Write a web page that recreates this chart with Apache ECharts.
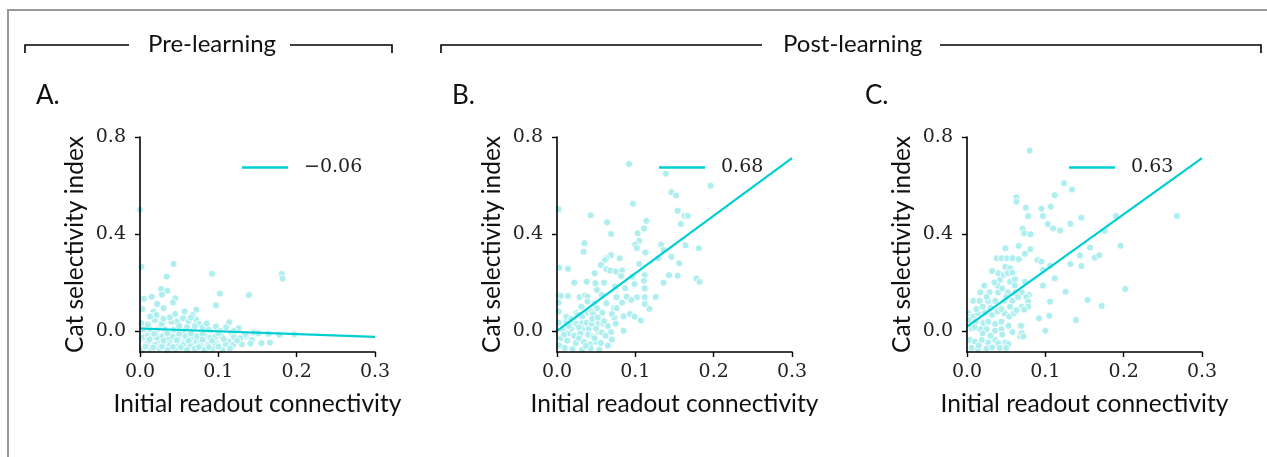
<!DOCTYPE html>
<html><head><meta charset="utf-8">
<script src="https://cdn.jsdelivr.net/npm/echarts@6/dist/echarts.min.js"></script>
<style>html,body{margin:0;padding:0;background:#fff}#c{width:1267px;height:457px}</style>
</head><body><div id="c"></div>
<script>
// ---- data ----
const xTicks = [0.0, 0.1, 0.2, 0.3];
const yTicks = [0.0, 0.4, 0.8];
const panelLetters = ['A.', 'B.', 'C.'];
const groupTitles = ['Pre-learning', 'Post-learning'];
const xName = 'Initial readout connectivity';
const yName = 'Cat selectivity index';
const corrLabels = ['\u22120.06', '0.68', '0.63'];

const ptsA = [[0,0.5],[0.002,0.265],[0.043,0.276],[0.092,0.236],[0.181,0.235],[0.182,0.216],[0.034,0.224],[0.027,0.173],[0.035,0.166],[0.028,0.15],[0.045,0.135],[0.042,0.117],[0.015,0.141],[0.005,0.133],[0.003,0.09],[0.102,0.154],[0.097,0.106],[0.139,0.148],[0.021,0.11],[0.03,0.094],[0.017,0.08],[0.014,0.062],[0.019,0.045],[0.072,0.087],[0.067,0.066],[0.054,0.052],[0.062,0.038],[0.047,0.038],[0.04,0.038],[0.072,0.045],[0.075,0.029],[0.114,0.036],[0.126,0.011],[0.097,0.018],[0.089,0.004],[0.026,0.018],[0.011,0.011],[0.002,0.032],[0.146,-0.007],[0.151,-0.01],[0.178,-0.016],[0.197,-0.014],[0.135,-0.023],[0.143,-0.037],[0.155,-0.051],[0.166,-0.048],[0.113,-0.044],[0.098,-0.051],[0.072,-0.044],[0.055,-0.051],[0.038,-0.048],[0.023,-0.037],[0.009,-0.044],[0.002,-0.03],
[0.038,0.056],[0.013,0.059],[0.021,0.066],[0.022,0.111],[0.055,0.052],[0.062,0.041],[0.004,0.005],[0.013,0.005],[0.021,0.003],[0.032,0.006],[0.043,0.004],[0.055,0.002],[0.068,0.005],[0.079,0.0],[0.087,0.006],[0.102,0.0],[0.117,-0.007],[0.134,-0.016],[0.164,-0.012],
[0.005,-0.025],[0.01,-0.02],[0.015,-0.026],[0.022,-0.028],[0.029,-0.022],[0.035,-0.027],[0.042,-0.024],[0.049,-0.028],[0.058,-0.023],[0.065,-0.027],[0.073,-0.022],[0.083,-0.02],[0.09,-0.028],[0.096,-0.024],[0.104,-0.022],[0.12,-0.025],[0.128,-0.03],
[0.009,-0.055],[0.019,-0.057],[0.03,-0.054],[0.038,-0.06],[0.049,-0.055],[0.055,-0.058],[0.064,-0.056],[0.077,-0.055],[0.087,-0.058],[0.096,-0.055],[0.109,-0.054],[0.119,-0.057],[0.13,-0.055],[0.141,-0.052],
[0.003,-0.075],[0.014,-0.078],[0.025,-0.072],[0.035,-0.079],[0.045,-0.074],[0.06,-0.077],[0.07,-0.073],[0.082,-0.078],[0.092,-0.074],[0.105,-0.078],[0.115,-0.072],
[0.01,0.025],[0.028,0.03],[0.05,0.02],[0.06,0.015],[0.07,0.02],[0.08,0.015],[0.03,0.05],[0.045,0.07],[0.057,0.08],[0.065,0.055],[0.085,0.03],[0.11,0.015],[0.12,0.0],[0.035,-0.01],[0.05,-0.012],[0.065,-0.01],[0.08,-0.013],[0.018,-0.012],[0.1,-0.01],
[0.007,-0.065],[0.017,-0.068],[0.028,-0.064],[0.042,-0.066],[0.052,-0.068],[0.075,-0.066],[0.088,-0.067],[0.1,-0.065],[0.012,-0.035],[0.03,-0.04],[0.047,-0.038],[0.062,-0.04],[0.08,-0.036],[0.092,-0.04],[0.107,-0.034],[0.124,-0.04]];

const ptsB = [[0.092,0.689],[0.139,0.649],[0.196,0.599],[0.146,0.572],[0.152,0.559],[0.097,0.525],[0.002,0.502],[0.154,0.496],[0.163,0.475],[0.167,0.475],[0.043,0.477],[0.114,0.454],[0.064,0.448],[0.158,0.441],[0.111,0.422],[0.069,0.4],[0.103,0.403],[0.105,0.372],[0.035,0.362],[0.1,0.356],[0.102,0.342],[0.133,0.356],[0.136,0.334],[0.164,0.353],[0.181,0.341],[0.034,0.327],[0.113,0.323],[0.069,0.313],[0.063,0.3],[0.061,0.293],[0.08,0.3],[0.146,0.306],[0.129,0.3],[0.056,0.272],[0.105,0.276],[0.156,0.279],[0.003,0.261],[0.014,0.256],[0.063,0.254],[0.068,0.249],[0.083,0.249],[0.075,0.245],[0.048,0.238],[0.082,0.227],[0.096,0.224],[0.112,0.231],[0.143,0.23],[0.154,0.228],[0.178,0.216],[0.182,0.202],[0.022,0.199],[0.038,0.203],[0.049,0.197],[0.06,0.199],[0.136,0.199],[0.111,0.207],[0.074,0.183],[0.087,0.176],[0.099,0.194],[0.051,0.169],[0.112,0.176],[0.002,0.148],[0.005,0.144],[0.014,0.144],[0.029,0.139],[0.036,0.146],[0.039,0.141],[0.057,0.148],[0.076,0.139],[0.089,0.141],[0.102,0.139],[0.112,0.139],[0.126,0.14],[0.063,0.114],[0.083,0.117],[0.095,0.128],[0.112,0.111],[0.002,0.117],[0.039,0.121],[0.048,0.114],[0.031,0.1],[0.051,0.094],[0.073,0.094],[0.076,0.094],[0.118,0.091],[0.002,0.08],[0.025,0.073],[0.027,0.066],[0.039,0.076],[0.044,0.08],[0.058,0.075],[0.046,0.07],[0.093,0.07],[0.099,0.059],[0.073,0.055],[0.107,0.043],[0.012,0.038],[0.002,0.034],[0.02,0.032],[0.025,0.03],[0.032,0.032],[0.038,0.034],[0.044,0.03],[0.053,0.032],[0.059,0.03],[0.085,0.001],[0.069,-0.005],[0.053,-0.004],[0.057,-0.007],[0.04,0.007],[0.032,0.007],
[0.008,0.0],[0.015,-0.01],[0.022,-0.02],[0.03,-0.01],[0.04,-0.015],[0.046,-0.025],[0.005,-0.03],[0.013,-0.04],[0.024,-0.05],[0.034,-0.045],[0.042,-0.055],[0.05,-0.045],[0.056,-0.05],[0.07,-0.035],[0.003,-0.06],[0.01,-0.07],[0.02,-0.075],[0.032,-0.078],[0.043,-0.072],[0.054,-0.078],[0.065,-0.06],[0.018,0.01],[0.028,0.015],[0.045,0.05],[0.052,0.055],[0.065,0.02],[0.075,0.03],[0.05,0.01],[0.062,-0.02],[0.012,0.058],[0.018,0.05],[0.032,0.06],[0.06,0.04],[0.07,0.07],[0.085,0.06],[0.009,-0.015],[0.028,-0.03],[0.037,-0.062],[0.048,-0.03],[0.015,0.02]];

const ptsC = [[0.08,0.744],[0.124,0.609],[0.134,0.583],[0.112,0.56],[0.063,0.551],[0.063,0.533],[0.075,0.508],[0.095,0.504],[0.107,0.513],[0.078,0.474],[0.097,0.474],[0.146,0.467],[0.19,0.474],[0.268,0.474],[0.103,0.441],[0.11,0.423],[0.119,0.414],[0.132,0.442],[0.176,0.412],[0.071,0.421],[0.073,0.403],[0.081,0.399],[0.066,0.351],[0.049,0.341],[0.081,0.337],[0.074,0.318],[0.157,0.344],[0.196,0.351],[0.144,0.311],[0.163,0.302],[0.169,0.312],[0.038,0.3],[0.044,0.3],[0.051,0.3],[0.058,0.3],[0.066,0.296],[0.09,0.293],[0.095,0.286],[0.106,0.269],[0.132,0.276],[0.146,0.268],
[0.049,0.265],[0.055,0.259],[0.04,0.238],[0.047,0.231],[0.052,0.238],[0.058,0.241],[0.032,0.247],[0.097,0.252],[0.112,0.217],[0.042,0.21],[0.055,0.203],[0.061,0.213],[0.074,0.203],[0.022,0.187],[0.039,0.187],[0.061,0.187],[0.097,0.187],[0.202,0.173],
[0.017,0.159],[0.029,0.159],[0.04,0.159],[0.052,0.159],[0.062,0.159],[0.07,0.159],[0.079,0.148],[0.126,0.162],
[0.008,0.124],[0.016,0.124],[0.027,0.124],[0.036,0.124],[0.048,0.124],[0.058,0.124],[0.076,0.139],[0.078,0.121],[0.078,0.1],[0.106,0.121],[0.154,0.128],[0.172,0.103],[0.07,0.1],[0.073,0.088],
[0.002,0.073],[0.004,0.058],[0.008,0.059],[0.014,0.073],[0.023,0.075],[0.032,0.066],[0.039,0.08],[0.048,0.073],[0.054,0.059],[0.06,0.073],
[0.092,0.052],[0.105,0.063],[0.139,0.045],[0.068,0.021],[0.1,0.001],[0.069,0.021],[0.068,-0.023],
[0.002,0.045],[0.011,0.038],[0.021,0.032],[0.027,0.038],[0.036,0.029],[0.044,0.038],[0.053,0.021],[0.006,0.011],[0.017,0.007],[0.025,0.007],[0.036,0.001],[0.044,0.007],[0.07,-0.01],[0.072,-0.023],
[0.004,-0.037],[0.01,-0.044],[0.019,-0.037],[0.027,-0.048],[0.036,-0.037],[0.04,-0.051],[0.049,-0.048],[0.053,-0.054],[0.006,-0.07],[0.014,-0.077],[0.025,-0.073],[0.032,-0.068],[0.042,-0.07],
[0.012,0.09],[0.02,0.1],[0.03,0.095],[0.044,0.09],[0.055,0.1],[0.063,0.085],[0.035,0.2],[0.045,0.175],[0.05,0.14],[0.065,0.14],[0.025,0.14],[0.01,0.015],[0.02,-0.01],[0.03,-0.02],[0.045,-0.015],[0.058,-0.005],[0.015,-0.06],[0.05,-0.07]];

const fitA = [[0, 0.01], [0.3, -0.025]];
const fitB = [[0, 0.0], [0.3, 0.713]];
const fitC = [[0, 0.018], [0.3, 0.713]];

// ---- chart ----
const pts = [ptsA, ptsB, ptsC];
const fits = [fitA, fitB, fitC];
const lefts = [140, 557, 967];
const GT = 137, GH = 215, GW = 235;
const YMIN = -0.087, YMAX = 0.8;
const lineColor = '#00ced1', ptColor = '#afeeee';
const serif = 'DejaVu Serif', sans = 'Lato';

const grid = [], xAxis = [], yAxis = [], series = [], legend = [];
for (let i = 0; i < 3; i++) {
  grid.push({left: lefts[i], top: GT, width: GW, height: GH});
  xAxis.push({gridIndex: i, type: 'value', min: 0, max: 0.3, interval: 0.1, z: 10,
    name: xName, nameLocation: 'middle', nameGap: 40,
    nameTextStyle: {fontFamily: sans, fontSize: 24.5, color: '#111'},
    axisLine: {onZero: false, lineStyle: {color: '#000', width: 1.6}},
    axisTick: {show: true, length: 5, lineStyle: {color: '#000', width: 1.4}},
    axisLabel: {fontFamily: serif, fontSize: 19, color: '#222', margin: 11,
      formatter: v => v.toFixed(1)},
    splitLine: {show: false}});
  yAxis.push({gridIndex: i, type: 'value', min: YMIN, max: YMAX, z: 10,
    name: yName, nameLocation: 'middle', nameGap: 52,
    nameTextStyle: {fontFamily: sans, fontSize: 24.5, color: '#111'},
    axisLine: {show: true, onZero: false, lineStyle: {color: '#000', width: 1.6}},
    axisTick: {show: true, length: 5, customValues: yTicks, lineStyle: {color: '#000', width: 1.4}},
    axisLabel: {fontFamily: serif, fontSize: 19, color: '#222', margin: 14,
      customValues: yTicks, formatter: v => v.toFixed(1)},
    splitLine: {show: false}});
  series.push({type: 'scatter', xAxisIndex: i, yAxisIndex: i, data: pts[i],
    symbolSize: 7, clip: true,
    itemStyle: {color: ptColor, borderColor: '#fff', borderWidth: 0.8, opacity: 1},
    z: 2});
  series.push({type: 'line', name: corrLabels[i], xAxisIndex: i, yAxisIndex: i, data: fits[i],
    showSymbol: false, symbol: 'none', lineStyle: {color: lineColor, width: 2.2},
    itemStyle: {color: lineColor}, z: 3, animation: false});
  legend.push({data: [corrLabels[i]], left: lefts[i] + 97, top: 153, icon: 'rect',
    itemWidth: 46, itemHeight: 2.5, itemGap: 0,
    textStyle: {fontFamily: serif, fontSize: 19, color: '#222', padding: [0, 0, 0, 11]}});
}

const titleStyle = {fontFamily: sans, fontSize: 26, fontWeight: 'normal', color: '#111'};
const title = [
  {text: panelLetters[0], left: 31, top: 78, textStyle: titleStyle},
  {text: panelLetters[1], left: 447, top: 78, textStyle: titleStyle},
  {text: panelLetters[2], left: 860, top: 78, textStyle: titleStyle},
  {text: groupTitles[0], left: 143, top: 27, textStyle: {...titleStyle, fontSize: 24}},
  {text: groupTitles[1], left: 778, top: 27, textStyle: {...titleStyle, fontSize: 24}}
];

const br = {stroke: '#000', lineWidth: 1.6};
const graphic = [
  {type: 'polyline', shape: {points: [[8, 457], [8, 10], [1267, 10]]}, style: {stroke: '#999', lineWidth: 2, fill: null}},
  {type: 'polyline', shape: {points: [[25, 53], [25, 45], [129, 45]]}, style: {...br, fill: null}},
  {type: 'polyline', shape: {points: [[290, 45], [392, 45], [392, 53]]}, style: {...br, fill: null}},
  {type: 'polyline', shape: {points: [[441, 53], [441, 45], [762, 45]]}, style: {...br, fill: null}},
  {type: 'polyline', shape: {points: [[940, 45], [1261, 45], [1261, 53]]}, style: {...br, fill: null}}
];

const chart = echarts.init(document.getElementById('c'));
chart.setOption({animation: false, backgroundColor: '#fff', title, grid, xAxis, yAxis, series, legend, graphic});
</script></body></html>
